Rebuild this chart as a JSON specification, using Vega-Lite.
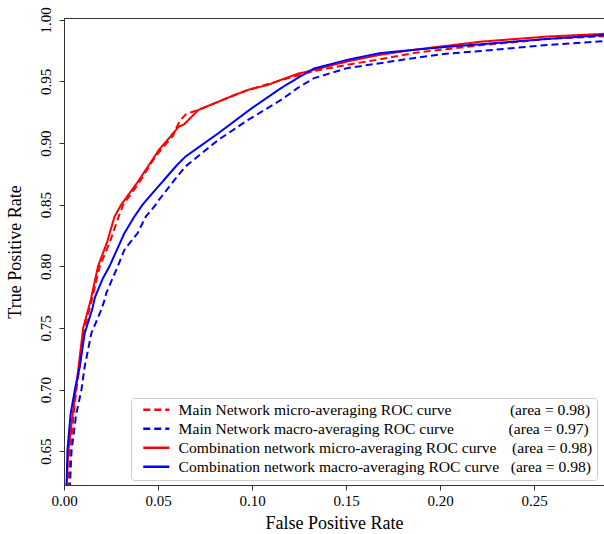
{
  "$schema": "https://vega.github.io/schema/vega-lite/v6.json",
  "width": 540,
  "height": 467,
  "autosize": {"type": "none"},
  "padding": {"left": 64, "top": 18, "right": 0, "bottom": 49},
  "background": "white",
  "config": {
    "view": {"stroke": "#333333", "strokeWidth": 1},
    "font": "Liberation Serif",
    "axis": {
      "labelFont": "Liberation Serif",
      "titleFont": "Liberation Serif",
      "labelFontSize": 15,
      "titleFontSize": 18,
      "titleFontWeight": "normal",
      "labelColor": "#000000",
      "titleColor": "#000000",
      "domainColor": "#333333",
      "tickColor": "#333333",
      "tickSize": 5,
      "grid": false
    },
    "legend": {
      "labelFont": "Liberation Serif",
      "labelFontSize": 15.6
    }
  },
  "data": {
    "values": [
      {"series": "Main Network micro-averaging ROC curve", "fpr": 0.0020, "tpr": 0.610},
      {"series": "Main Network micro-averaging ROC curve", "fpr": 0.0032, "tpr": 0.650},
      {"series": "Main Network micro-averaging ROC curve", "fpr": 0.0048, "tpr": 0.675},
      {"series": "Main Network micro-averaging ROC curve", "fpr": 0.0066, "tpr": 0.700},
      {"series": "Main Network micro-averaging ROC curve", "fpr": 0.0110, "tpr": 0.750},
      {"series": "Main Network micro-averaging ROC curve", "fpr": 0.0135, "tpr": 0.765},
      {"series": "Main Network micro-averaging ROC curve", "fpr": 0.0148, "tpr": 0.7727},
      {"series": "Main Network micro-averaging ROC curve", "fpr": 0.0190, "tpr": 0.800},
      {"series": "Main Network micro-averaging ROC curve", "fpr": 0.0245, "tpr": 0.820},
      {"series": "Main Network micro-averaging ROC curve", "fpr": 0.0290, "tpr": 0.840},
      {"series": "Main Network micro-averaging ROC curve", "fpr": 0.0315, "tpr": 0.850},
      {"series": "Main Network micro-averaging ROC curve", "fpr": 0.0400, "tpr": 0.868},
      {"series": "Main Network micro-averaging ROC curve", "fpr": 0.0475, "tpr": 0.8864},
      {"series": "Main Network micro-averaging ROC curve", "fpr": 0.0515, "tpr": 0.8945},
      {"series": "Main Network micro-averaging ROC curve", "fpr": 0.0580, "tpr": 0.906},
      {"series": "Main Network micro-averaging ROC curve", "fpr": 0.0615, "tpr": 0.918},
      {"series": "Main Network micro-averaging ROC curve", "fpr": 0.0650, "tpr": 0.9235},
      {"series": "Main Network micro-averaging ROC curve", "fpr": 0.0700, "tpr": 0.9262},
      {"series": "Main Network micro-averaging ROC curve", "fpr": 0.0716, "tpr": 0.927},
      {"series": "Main Network micro-averaging ROC curve", "fpr": 0.0909, "tpr": 0.939},
      {"series": "Main Network micro-averaging ROC curve", "fpr": 0.0979, "tpr": 0.943},
      {"series": "Main Network micro-averaging ROC curve", "fpr": 0.1154, "tpr": 0.951},
      {"series": "Main Network micro-averaging ROC curve", "fpr": 0.1330, "tpr": 0.9585},
      {"series": "Main Network micro-averaging ROC curve", "fpr": 0.1505, "tpr": 0.9635},
      {"series": "Main Network micro-averaging ROC curve", "fpr": 0.1680, "tpr": 0.968},
      {"series": "Main Network micro-averaging ROC curve", "fpr": 0.1856, "tpr": 0.973},
      {"series": "Main Network micro-averaging ROC curve", "fpr": 0.2032, "tpr": 0.9762},
      {"series": "Main Network micro-averaging ROC curve", "fpr": 0.2225, "tpr": 0.9795},
      {"series": "Main Network micro-averaging ROC curve", "fpr": 0.2575, "tpr": 0.9845},
      {"series": "Main Network micro-averaging ROC curve", "fpr": 0.2842, "tpr": 0.9865},
      {"series": "Main Network micro-averaging ROC curve", "fpr": 0.2900, "tpr": 0.987},

      {"series": "Main Network macro-averaging ROC curve", "fpr": 0.0028, "tpr": 0.610},
      {"series": "Main Network macro-averaging ROC curve", "fpr": 0.0040, "tpr": 0.650},
      {"series": "Main Network macro-averaging ROC curve", "fpr": 0.0065, "tpr": 0.680},
      {"series": "Main Network macro-averaging ROC curve", "fpr": 0.0093, "tpr": 0.700},
      {"series": "Main Network macro-averaging ROC curve", "fpr": 0.0110, "tpr": 0.7186},
      {"series": "Main Network macro-averaging ROC curve", "fpr": 0.0146, "tpr": 0.7459},
      {"series": "Main Network macro-averaging ROC curve", "fpr": 0.0198, "tpr": 0.7646},
      {"series": "Main Network macro-averaging ROC curve", "fpr": 0.0216, "tpr": 0.7727},
      {"series": "Main Network macro-averaging ROC curve", "fpr": 0.0225, "tpr": 0.7784},
      {"series": "Main Network macro-averaging ROC curve", "fpr": 0.0286, "tpr": 0.800},
      {"series": "Main Network macro-averaging ROC curve", "fpr": 0.0321, "tpr": 0.8133},
      {"series": "Main Network macro-averaging ROC curve", "fpr": 0.0391, "tpr": 0.8268},
      {"series": "Main Network macro-averaging ROC curve", "fpr": 0.0435, "tpr": 0.8403},
      {"series": "Main Network macro-averaging ROC curve", "fpr": 0.0488, "tpr": 0.850},
      {"series": "Main Network macro-averaging ROC curve", "fpr": 0.0505, "tpr": 0.8539},
      {"series": "Main Network macro-averaging ROC curve", "fpr": 0.0602, "tpr": 0.8728},
      {"series": "Main Network macro-averaging ROC curve", "fpr": 0.0646, "tpr": 0.881},
      {"series": "Main Network macro-averaging ROC curve", "fpr": 0.0821, "tpr": 0.9026},
      {"series": "Main Network macro-averaging ROC curve", "fpr": 0.0979, "tpr": 0.9188},
      {"series": "Main Network macro-averaging ROC curve", "fpr": 0.1154, "tpr": 0.935},
      {"series": "Main Network macro-averaging ROC curve", "fpr": 0.1242, "tpr": 0.9446},
      {"series": "Main Network macro-averaging ROC curve", "fpr": 0.1330, "tpr": 0.9527},
      {"series": "Main Network macro-averaging ROC curve", "fpr": 0.1505, "tpr": 0.9608},
      {"series": "Main Network macro-averaging ROC curve", "fpr": 0.1680, "tpr": 0.9648},
      {"series": "Main Network macro-averaging ROC curve", "fpr": 0.1856, "tpr": 0.9689},
      {"series": "Main Network macro-averaging ROC curve", "fpr": 0.2032, "tpr": 0.9725},
      {"series": "Main Network macro-averaging ROC curve", "fpr": 0.2225, "tpr": 0.9748},
      {"series": "Main Network macro-averaging ROC curve", "fpr": 0.2575, "tpr": 0.9797},
      {"series": "Main Network macro-averaging ROC curve", "fpr": 0.2842, "tpr": 0.9824},
      {"series": "Main Network macro-averaging ROC curve", "fpr": 0.2900, "tpr": 0.983},

      {"series": "Combination network micro-averaging ROC curve", "fpr": 0.0010, "tpr": 0.610},
      {"series": "Combination network micro-averaging ROC curve", "fpr": 0.0023, "tpr": 0.650},
      {"series": "Combination network micro-averaging ROC curve", "fpr": 0.0042, "tpr": 0.675},
      {"series": "Combination network micro-averaging ROC curve", "fpr": 0.0063, "tpr": 0.700},
      {"series": "Combination network micro-averaging ROC curve", "fpr": 0.0102, "tpr": 0.750},
      {"series": "Combination network micro-averaging ROC curve", "fpr": 0.0128, "tpr": 0.7646},
      {"series": "Combination network micro-averaging ROC curve", "fpr": 0.0142, "tpr": 0.7727},
      {"series": "Combination network micro-averaging ROC curve", "fpr": 0.0181, "tpr": 0.800},
      {"series": "Combination network micro-averaging ROC curve", "fpr": 0.0230, "tpr": 0.820},
      {"series": "Combination network micro-averaging ROC curve", "fpr": 0.0268, "tpr": 0.840},
      {"series": "Combination network micro-averaging ROC curve", "fpr": 0.0304, "tpr": 0.850},
      {"series": "Combination network micro-averaging ROC curve", "fpr": 0.0390, "tpr": 0.868},
      {"series": "Combination network micro-averaging ROC curve", "fpr": 0.0470, "tpr": 0.8864},
      {"series": "Combination network micro-averaging ROC curve", "fpr": 0.0505, "tpr": 0.8945},
      {"series": "Combination network micro-averaging ROC curve", "fpr": 0.0611, "tpr": 0.9134},
      {"series": "Combination network micro-averaging ROC curve", "fpr": 0.0637, "tpr": 0.915},
      {"series": "Combination network micro-averaging ROC curve", "fpr": 0.0716, "tpr": 0.927},
      {"series": "Combination network micro-averaging ROC curve", "fpr": 0.0909, "tpr": 0.9391},
      {"series": "Combination network micro-averaging ROC curve", "fpr": 0.0979, "tpr": 0.9432},
      {"series": "Combination network micro-averaging ROC curve", "fpr": 0.1084, "tpr": 0.9472},
      {"series": "Combination network micro-averaging ROC curve", "fpr": 0.1154, "tpr": 0.9513},
      {"series": "Combination network micro-averaging ROC curve", "fpr": 0.1242, "tpr": 0.9562},
      {"series": "Combination network micro-averaging ROC curve", "fpr": 0.1330, "tpr": 0.9594},
      {"series": "Combination network micro-averaging ROC curve", "fpr": 0.1505, "tpr": 0.9662},
      {"series": "Combination network micro-averaging ROC curve", "fpr": 0.1680, "tpr": 0.9716},
      {"series": "Combination network micro-averaging ROC curve", "fpr": 0.1856, "tpr": 0.9756},
      {"series": "Combination network micro-averaging ROC curve", "fpr": 0.2032, "tpr": 0.9789},
      {"series": "Combination network micro-averaging ROC curve", "fpr": 0.2225, "tpr": 0.9824},
      {"series": "Combination network micro-averaging ROC curve", "fpr": 0.2575, "tpr": 0.9865},
      {"series": "Combination network micro-averaging ROC curve", "fpr": 0.2842, "tpr": 0.9884},
      {"series": "Combination network micro-averaging ROC curve", "fpr": 0.2900, "tpr": 0.989},

      {"series": "Combination network macro-averaging ROC curve", "fpr": 0.0012, "tpr": 0.610},
      {"series": "Combination network macro-averaging ROC curve", "fpr": 0.0018, "tpr": 0.650},
      {"series": "Combination network macro-averaging ROC curve", "fpr": 0.0035, "tpr": 0.680},
      {"series": "Combination network macro-averaging ROC curve", "fpr": 0.0058, "tpr": 0.700},
      {"series": "Combination network macro-averaging ROC curve", "fpr": 0.0084, "tpr": 0.7186},
      {"series": "Combination network macro-averaging ROC curve", "fpr": 0.0110, "tpr": 0.7457},
      {"series": "Combination network macro-averaging ROC curve", "fpr": 0.0150, "tpr": 0.765},
      {"series": "Combination network macro-averaging ROC curve", "fpr": 0.0165, "tpr": 0.775},
      {"series": "Combination network macro-averaging ROC curve", "fpr": 0.0206, "tpr": 0.790},
      {"series": "Combination network macro-averaging ROC curve", "fpr": 0.0242, "tpr": 0.800},
      {"series": "Combination network macro-averaging ROC curve", "fpr": 0.0321, "tpr": 0.8268},
      {"series": "Combination network macro-averaging ROC curve", "fpr": 0.0374, "tpr": 0.8403},
      {"series": "Combination network macro-averaging ROC curve", "fpr": 0.0418, "tpr": 0.850},
      {"series": "Combination network macro-averaging ROC curve", "fpr": 0.0470, "tpr": 0.8593},
      {"series": "Combination network macro-averaging ROC curve", "fpr": 0.0602, "tpr": 0.8823},
      {"series": "Combination network macro-averaging ROC curve", "fpr": 0.0646, "tpr": 0.889},
      {"series": "Combination network macro-averaging ROC curve", "fpr": 0.0821, "tpr": 0.908},
      {"series": "Combination network macro-averaging ROC curve", "fpr": 0.0996, "tpr": 0.928},
      {"series": "Combination network macro-averaging ROC curve", "fpr": 0.1154, "tpr": 0.9446},
      {"series": "Combination network macro-averaging ROC curve", "fpr": 0.1242, "tpr": 0.9527},
      {"series": "Combination network macro-averaging ROC curve", "fpr": 0.1330, "tpr": 0.9605},
      {"series": "Combination network macro-averaging ROC curve", "fpr": 0.1505, "tpr": 0.9675},
      {"series": "Combination network macro-averaging ROC curve", "fpr": 0.1680, "tpr": 0.973},
      {"series": "Combination network macro-averaging ROC curve", "fpr": 0.1856, "tpr": 0.9756},
      {"series": "Combination network macro-averaging ROC curve", "fpr": 0.2032, "tpr": 0.978},
      {"series": "Combination network macro-averaging ROC curve", "fpr": 0.2225, "tpr": 0.9803},
      {"series": "Combination network macro-averaging ROC curve", "fpr": 0.2575, "tpr": 0.9846},
      {"series": "Combination network macro-averaging ROC curve", "fpr": 0.2842, "tpr": 0.9873},
      {"series": "Combination network macro-averaging ROC curve", "fpr": 0.2900, "tpr": 0.988}
    ]
  },
  "mark": {"type": "line", "strokeWidth": 2, "clip": true, "interpolate": "linear"},
  "encoding": {
    "x": {
      "field": "fpr",
      "type": "quantitative",
      "scale": {"domain": [0, 0.2872], "nice": false, "zero": false},
      "axis": {
        "title": "False Positive Rate",
        "values": [0, 0.05, 0.1, 0.15, 0.2, 0.25],
        "format": ".2f",
        "labelPadding": 3,
        "titlePadding": 6,
        "labelFlush": false
      }
    },
    "y": {
      "field": "tpr",
      "type": "quantitative",
      "scale": {"domain": [0.6225, 1.0015], "nice": false, "zero": false},
      "axis": {
        "title": "True Positive Rate",
        "values": [0.65, 0.7, 0.75, 0.8, 0.85, 0.9, 0.95, 1.0],
        "format": ".2f",
        "labelAngle": -90,
        "labelPadding": 6,
        "titlePadding": 14,
        "labelFlush": false
      }
    },
    "color": {
      "field": "series",
      "type": "nominal",
      "scale": {
        "domain": ["Main Network micro-averaging ROC curve", "Main Network macro-averaging ROC curve", "Combination network micro-averaging ROC curve", "Combination network macro-averaging ROC curve"],
        "range": ["#ff0000", "#0000ff", "#ff0000", "#0000ff"]
      },
      "legend": {
        "title": null,
        "orient": "none",
        "legendX": 67,
        "legendY": 380,
        "symbolType": "M0.1,0L5.9,0",
        "symbolSize": 81,
        "symbolStrokeWidth": 2.5,
        "labelLimit": 0,
        "labelOffset": 28,
        "rowPadding": 2,
        "padding": 4,
        "strokeColor": "#cccccc",
        "fillColor": "#ffffff",
        "cornerRadius": 3,
        "labelExpr": "datum.label + (datum.label == 'Main Network micro-averaging ROC curve' ? '\u00a0\u00a0\u00a0\u00a0\u00a0\u00a0\u00a0\u00a0\u00a0\u00a0\u00a0\u00a0\u00a0\u00a0\u00a0(area = 0.98)' : datum.label == 'Main Network macro-averaging ROC curve' ? '\u00a0\u00a0\u00a0\u00a0\u00a0\u00a0\u00a0\u00a0\u00a0\u00a0\u00a0\u00a0\u00a0\u00a0(area = 0.97)' : datum.label == 'Combination network micro-averaging ROC curve' ? '\u00a0\u00a0\u00a0\u00a0(area = 0.98)' : '\u00a0\u00a0\u00a0(area = 0.98)')"
      }
    },
    "strokeDash": {
      "field": "series",
      "type": "nominal",
      "scale": {
        "domain": ["Main Network micro-averaging ROC curve", "Main Network macro-averaging ROC curve", "Combination network micro-averaging ROC curve", "Combination network macro-averaging ROC curve"],
        "range": [[7, 4], [7, 4], [1, 0], [1, 0]]
      }
    }
  }
}
